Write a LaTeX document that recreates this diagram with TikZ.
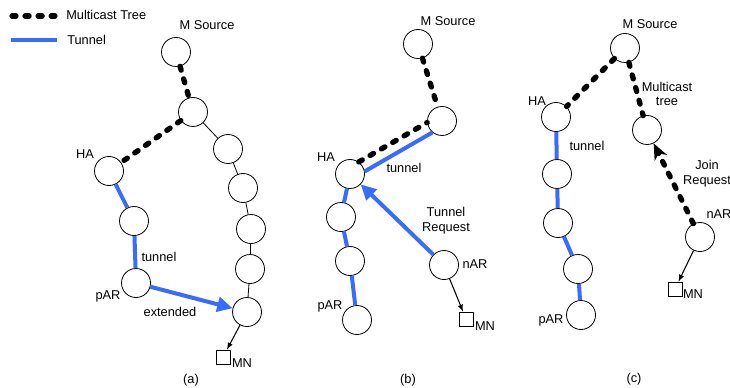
\documentclass[tikz,border=0pt]{standalone}
\usepackage{fontspec}
\setmainfont{Liberation Sans}
\usetikzlibrary{arrows.meta}
\definecolor{tunnelblue}{RGB}{56,108,255}

\begin{document}
\begin{tikzpicture}[x=0.75pt,y=-0.75pt,font=\fontsize{9.6}{11}\selectfont]
 \tikzset{router node/.style={circle, draw, line width=0.6pt,
 		minimum size=21.75pt, inner sep=0pt}, }
 \tikzset{host node/.style={rectangle, draw, line width=0.6pt,
 		minimum size=10.5pt, inner sep=0pt}, }
 \tikzset{text node/.style={inner sep=0pt, align=center}, }
 \tikzset{mcast line/.style={line width=4pt,
 		dash pattern=on 3pt off 6.8pt, line cap=round}, }
 \tikzset{tunnel line/.style={line width=3pt, draw=tunnelblue}, }
 \tikzset{link line/.style={line width=0.6pt}, }
 \tikzset{linea/.style={-latex, line width=0.8pt},}
 \tikzset{tunnel tip/.style={-{Triangle[length=11.5pt,width=11pt]}},}
 \tikzset{join tip/.style={-{Stealth[length=12pt,width=10pt,inset=3.5pt]}},}
 \useasboundingbox (0,0) rectangle (730,388);
 % legend
 \coordinate (m1) at (12,16);
 \coordinate (m2) at (55,16);
 \coordinate (t1) at (11,40);
 \coordinate (t2) at (57,40);
 \draw[mcast line] (m1) -- (m2);
 \draw[tunnel line] (t1) -- (t2);
 \node[text node, anchor=west] (mt) at (66,15) {Multicast Tree};
 \node[text node, anchor=west] (tt) at (67,40) {Tunnel};
 % (a)
 \node[router node] (a1) at (176,52) {};
 \node[router node] (a2) at (193,112) {};
 \node[router node] (a3) at (109,171) {};
 \node[router node] (a4) at (134,221) {};
 \node[router node] (a5) at (136,283) {};
 \node[router node] (a6) at (228,149) {};
 \node[router node] (a7) at (243,188) {};
 \node[router node] (a8) at (251,229) {};
 \node[router node] (a9) at (250,269) {};
 \node[router node] (a10) at (247,312) {};
 \node[host node] (amn) at (223,357) {};
 \node[text node] (a1l) at (207,25) {M Source};
 \node[text node] (a3l) at (85,154) {HA};
 \node[text node] (a5l) at (108,296) {pAR};
 \node[text node] (atl) at (159,257) {tunnel};
 \node[text node] (ael) at (170,312) {extended};
 \node[text node] (amnl) at (242,363) {MN};
 \node[text node] (acap) at (191,380) {(a)};
 \foreach \x/\y in {a1/a2,a2/a3}
 \draw[mcast line] (\x) -- (\y);
 \foreach \x/\y in {a3/a4,a4/a5}
 \draw[tunnel line] (\x) -- (\y);
 \foreach \x/\y in {a2/a6,a6/a7,a7/a8,a8/a9,a9/a10}
 \draw[link line] (\x) -- (\y);
 \draw[tunnel line, tunnel tip] (a5) -- (a10);
 \draw[linea] (a10) -- (amn);
 % (b)
 \node[router node] (b1) at (418,44) {};
 \node[router node] (b2) at (442,121) {};
 \node[router node] (b3) at (350,174) {};
 \node[router node] (b4) at (341,217) {};
 \node[router node] (b5) at (350,261) {};
 \node[router node] (b6) at (357,320) {};
 \node[router node] (b7) at (444,265) {};
 \node[host node] (bmn) at (466,319) {};
 \node[text node] (b1l) at (448,21) {M Source};
 \node[text node] (b3l) at (326,157) {HA};
 \node[text node] (b6l) at (330,306) {pAR};
 \node[text node] (b7l) at (475,264) {nAR};
 \node[text node] (btl) at (404,168) {tunnel};
 \node[text node] (brl) at (446,221) {Tunnel\\Request};
 \node[text node] (bmnl) at (485,326) {MN};
 \node[text node] (bcap) at (408,380) {(b)};
 \draw[mcast line] (b1) -- (b2);
 \draw[mcast line] (b3.54) -- (b2.186);
 \draw[tunnel line] (b3.10) -- (b2.230);
 \foreach \x/\y in {b3/b4,b4/b5,b5/b6}
 \draw[tunnel line] (\x) -- (\y);
 \draw[tunnel line, tunnel tip] (b7) -- (b3);
 \draw[linea] (b7) -- (bmn);
 % (c)
 \node[router node] (c1) at (625,48) {};
 \node[router node] (c2) at (556,117) {};
 \node[router node] (c3) at (557,174) {};
 \node[router node] (c4) at (558,223) {};
 \node[router node] (c5) at (578,269) {};
 \node[router node] (c6) at (581,315) {};
 \node[router node] (c7) at (647,130) {};
 \node[router node] (c8) at (700,237) {};
 \node[host node] (cmn) at (675,289) {};
 \node[text node] (c1l) at (650,24) {M Source};
 \node[text node] (c2l) at (537,101) {HA};
 \node[text node] (c6l) at (551,320) {pAR};
 \node[text node] (c7l) at (667,94) {Multicast\\tree};
 \node[text node] (c8l) at (719,214) {nAR};
 \node[text node] (ctl) at (587,146) {tunnel};
 \node[text node] (cjl) at (707,174) {Join\\Request};
 \node[text node] (cmnl) at (693,294) {MN};
 \node[text node] (ccap) at (634,379) {(c)};
 \foreach \x/\y in {c1/c2,c1/c7}
 \draw[mcast line] (\x) -- (\y);
 \foreach \x/\y in {c2/c3,c3/c4,c4/c5,c5/c6}
 \draw[tunnel line] (\x) -- (\y);
 \draw[mcast line, join tip] (c8) -- (c7);
 \draw[linea] (c8) -- (cmn);
 % 
\end{tikzpicture}
\end{document}
